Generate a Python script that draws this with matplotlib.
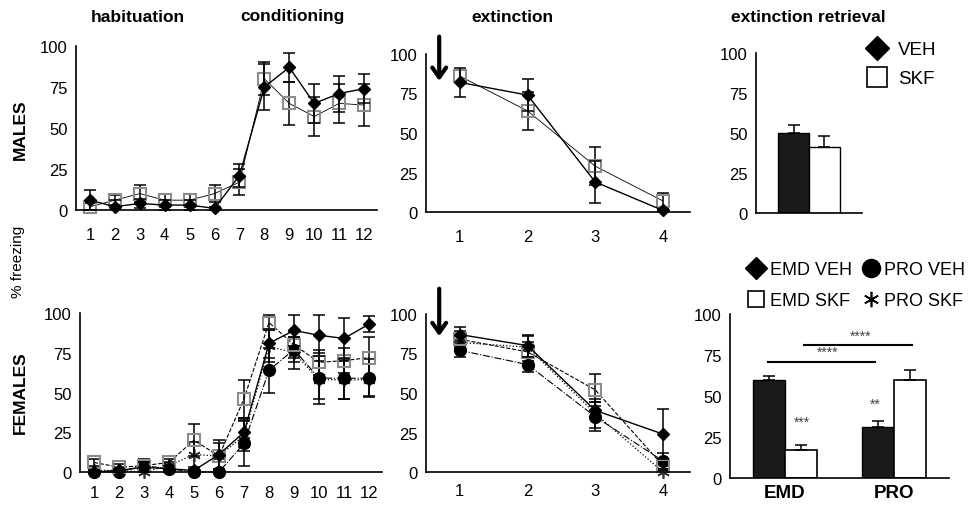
import matplotlib.pyplot as plt
from matplotlib.lines import Line2D

plt.rcParams['font.family'] = ['Liberation Sans', 'DejaVu Sans']

# ---- males: habituation (1-6) + conditioning (7-12)
trials = list(range(1, 13))
m_veh = [6, 2, 4, 3, 3, 1, 21, 75, 87, 65, 71, 74]
m_veh_err = [6, 4, 3, 3, 3, 1, 7, 14, 9, 12, 11, 9]
m_skf = [2, 6, 10, 6, 6, 10, 17, 80, 65, 57, 65, 64]
m_skf_err = [2, 3, 5, 4, 4, 5, 8, 10, 13, 12, 12, 13]

# ---- males: extinction
ext = [1, 2, 3, 4]
m_ext_veh = [82, 74, 19, 1]
m_ext_veh_err = [9, 10, 13, 1]
m_ext_skf = [86, 64, 29, 7]
m_ext_skf_err = [4, 12, 12, 5]

# ---- males: extinction retrieval
m_ret = [50, 41]
m_ret_err = [5, 7]

# ---- females: habituation + conditioning
f_emd_veh = [0, 1, 3, 2, 1, 11, 25, 81, 89, 86, 84, 93]
f_emd_veh_err = [1, 1, 3, 2, 1, 9, 9, 9, 10, 13, 13, 5]
f_emd_skf = [6, 3, 4, 6, 20, 10, 46, 94, 80, 69, 70, 72]
f_emd_skf_err = [2, 2, 3, 2, 10, 4, 12, 5, 8, 8, 8, 13]
f_pro_veh = [0, 0, 4, 2, 0, 0, 18, 64, 77, 59, 59, 59]
f_pro_veh_err = [1, 1, 4, 2, 1, 1, 14, 14, 8, 16, 13, 12]
f_pro_skf = [1, 1, 0, 4, 11, 10, 23, 79, 75, 58, 58, 58]
f_pro_skf_err = [1, 1, 2, 2, 8, 8, 10, 10, 10, 12, 12, 10]

# ---- females: extinction
f_ext_emd_veh = [87, 80, 39, 24]
f_ext_emd_veh_err = [5, 7, 5, 16]
f_ext_emd_skf = [84, 76, 52, 4]
f_ext_emd_skf_err = [5, 6, 10, 3]
f_ext_pro_veh = [77, 68, 35, 7]
f_ext_pro_veh_err = [4, 5, 9, 5]
f_ext_pro_skf = [82, 79, 37, 0]
f_ext_pro_skf_err = [4, 7, 9, 2]

# ---- females: extinction retrieval
groups = ['EMD', 'PRO']
f_ret_veh = [60, 31]
f_ret_veh_err = [2, 4]
f_ret_skf = [17, 60]
f_ret_skf_err = [3, 6]

W, H = 971, 506
fig = plt.figure(figsize=(W / 100, H / 100), dpi=100)


def add_ax(l, t, r, b):
    return fig.add_axes([l / W, 1 - b / H, (r - l) / W, (b - t) / H])


def style(ax, xpad):
    for s in ['top', 'right']:
        ax.spines[s].set_visible(False)
    for s in ['left', 'bottom']:
        ax.spines[s].set_linewidth(1.2)
    ax.set_ylim(0, 100)
    ax.set_yticks([0, 25, 50, 75, 100])
    ax.tick_params(length=0, labelsize=12)
    ax.tick_params(axis='y', pad=6)
    ax.tick_params(axis='x', pad=xpad)


STAR = (6, 2, 0)
sty = {
    'veh': dict(marker='D', ms=6.5, mfc='k', mec='k', ls='-', lw=1.0),
    'skf': dict(marker='s', ms=8, mfc='none', mec='#8c8c8c', ls='-', lw=0.6, mew=1.5),
    'emd_veh': dict(marker='D', ms=6.5, mfc='k', mec='k', ls='-', lw=1.0),
    'emd_skf': dict(marker='s', ms=8, mfc='none', mec='#8c8c8c', ls='--', lw=0.8, mew=1.5),
    'pro_veh': dict(marker='o', ms=8.5, mfc='k', mec='k', ls='-.', lw=0.8),
    'pro_skf': dict(marker=STAR, ms=9, mfc='k', mec='#333333', ls=':', lw=0.9, mew=1.2),
}


def series(ax, x, y, e, key):
    ax.errorbar(x, y, yerr=e, fmt='none', ecolor='k', elinewidth=1.1,
                capsize=4, capthick=1.1)
    ax.plot(x, y, color='k', clip_on=False, **sty[key])


# males habituation/conditioning
ax1 = add_ax(76, 47, 377, 211)
series(ax1, trials, m_skf, m_skf_err, 'skf')
series(ax1, trials, m_veh, m_veh_err, 'veh')
ax1.set_xlim(0.44, 12.52)
ax1.set_xticks(trials)
style(ax1, 12)

# males extinction
ax2 = add_ax(426, 55, 690, 213)
series(ax2, ext, m_ext_skf, m_ext_skf_err, 'skf')
series(ax2, ext, m_ext_veh, m_ext_veh_err, 'veh')
ax2.set_xlim(0.5, 4.4)
ax2.set_xticks(ext)
style(ax2, 12)

# males retrieval bars
ax3 = add_ax(756, 54, 862, 214)
bw = 0.29
ax3.bar([-bw / 2], [m_ret[0]], bw, color='#1a1a1a', edgecolor='k', lw=1)
ax3.bar([bw / 2], [m_ret[1]], bw, color='white', edgecolor='k', lw=1)
ax3.errorbar([-bw / 2, bw / 2], m_ret, yerr=[[0, 0], m_ret_err], fmt='none',
             ecolor='k', elinewidth=1.1, capsize=4, capthick=1.1)
ax3.set_xlim(-0.5, 0.5)
ax3.set_xticks([])
style(ax3, 5)

# females habituation/conditioning
ax4 = add_ax(80, 314, 382, 473)
series(ax4, trials, f_pro_skf, f_pro_skf_err, 'pro_skf')
series(ax4, trials, f_pro_veh, f_pro_veh_err, 'pro_veh')
series(ax4, trials, f_emd_skf, f_emd_skf_err, 'emd_skf')
series(ax4, trials, f_emd_veh, f_emd_veh_err, 'emd_veh')
ax4.set_xlim(0.44, 12.52)
ax4.set_xticks(trials)
style(ax4, 9)

# females extinction
ax5 = add_ax(426, 315, 690, 473)
series(ax5, ext, f_ext_pro_skf, f_ext_pro_skf_err, 'pro_skf')
series(ax5, ext, f_ext_pro_veh, f_ext_pro_veh_err, 'pro_veh')
series(ax5, ext, f_ext_emd_skf, f_ext_emd_skf_err, 'emd_skf')
series(ax5, ext, f_ext_emd_veh, f_ext_emd_veh_err, 'emd_veh')
ax5.set_xlim(0.5, 4.4)
ax5.set_xticks(ext)
style(ax5, 8)

# females retrieval bars
ax6 = add_ax(730, 315, 949, 479)
gx = [0, 1]
ax6.bar([g - bw / 2 for g in gx], f_ret_veh, bw, color='#1a1a1a', edgecolor='k', lw=1)
ax6.bar([g + bw / 2 for g in gx], f_ret_skf, bw, color='white', edgecolor='k', lw=1.2)
ax6.errorbar([g - bw / 2 for g in gx], f_ret_veh, yerr=[[0, 0], f_ret_veh_err], fmt='none',
             ecolor='k', elinewidth=1.1, capsize=4, capthick=1.1)
ax6.errorbar([g + bw / 2 for g in gx], f_ret_skf, yerr=[[0, 0], f_ret_skf_err], fmt='none',
             ecolor='k', elinewidth=1.1, capsize=4, capthick=1.1)
ax6.set_xlim(-0.5, 1.5)
ax6.set_xticks(gx)
style(ax6, 4)
ax6.set_xticklabels(groups, fontweight='bold', fontsize=13.5)
ax6.plot([-0.15, 0.82], [71, 71], color='k', lw=1.5, clip_on=False)
ax6.plot([0.18, 1.16], [81, 81], color='k', lw=1.5, clip_on=False)
ax6.text(0.39, 72.5, '****', ha='center', va='bottom', fontsize=10, color='#444444')
ax6.text(0.69, 82.5, '****', ha='center', va='bottom', fontsize=10, color='#444444')
ax6.text(0.16, 30, '***', ha='center', va='bottom', fontsize=10, color='#444444')
ax6.text(0.83, 41, '**', ha='center', va='bottom', fontsize=10, color='#444444')

# arrows marking the start of extinction
for ax, tip, tail in [(ax2, 0.83, 1.11), (ax5, 0.86, 1.16)]:
    ax.annotate('', xy=(0.05, tip), xytext=(0.05, tail), xycoords='axes fraction',
                arrowprops=dict(arrowstyle='->,head_length=0.7,head_width=0.5',
                                lw=3, color='k', shrinkA=0, shrinkB=0))

# titles and row labels
for txt, x in [('habituation', 138), ('conditioning', 293), ('extinction', 512),
               ('extinction retrieval', 808)]:
    fig.text(x / W, 1 - 17 / H, txt, ha='center', va='center', fontsize=12.5, fontweight='bold')
fig.text(20 / W, 1 - 130 / H, 'MALES', rotation=90, ha='center', va='center',
         fontsize=12.5, fontweight='bold')
fig.text(20 / W, 1 - 393 / H, 'FEMALES', rotation=90, ha='center', va='center',
         fontsize=12.5, fontweight='bold')
fig.text(18 / W, 1 - 262 / H, '% freezing', rotation=90, ha='center', va='center', fontsize=11)

# legends
mh = [Line2D([], [], marker='D', ms=12.5, color='k', ls='none'),
      Line2D([], [], marker='s', ms=15, mfc='white', mec='k', mew=1.2, ls='none')]
fig.legend(mh, ['VEH', 'SKF'], loc='upper left', bbox_to_anchor=(867 / W, 1 - 42 / H),
           frameon=False, fontsize=13.5, handlelength=1.1, handletextpad=0.55,
           labelspacing=0.65, borderpad=0, borderaxespad=0)

fh = [Line2D([], [], marker='D', ms=11, color='k', ls='none'),
      Line2D([], [], marker='s', ms=11, mfc='white', mec='k', mew=1.2, ls='none'),
      Line2D([], [], marker='o', ms=13, color='k', ls='none'),
      Line2D([], [], marker=STAR, ms=11, color='k', mew=1.2, ls='none')]
fig.legend(fh, ['EMD VEH', 'EMD SKF', 'PRO VEH', 'PRO SKF'], ncol=2, loc='upper left',
           bbox_to_anchor=(748 / W, 1 - 262 / H), frameon=False, fontsize=13,
           handlelength=0.9, handletextpad=0.3, labelspacing=0.8, columnspacing=0.6,
           borderpad=0, borderaxespad=0)

fig.savefig('out.png', dpi=100)
